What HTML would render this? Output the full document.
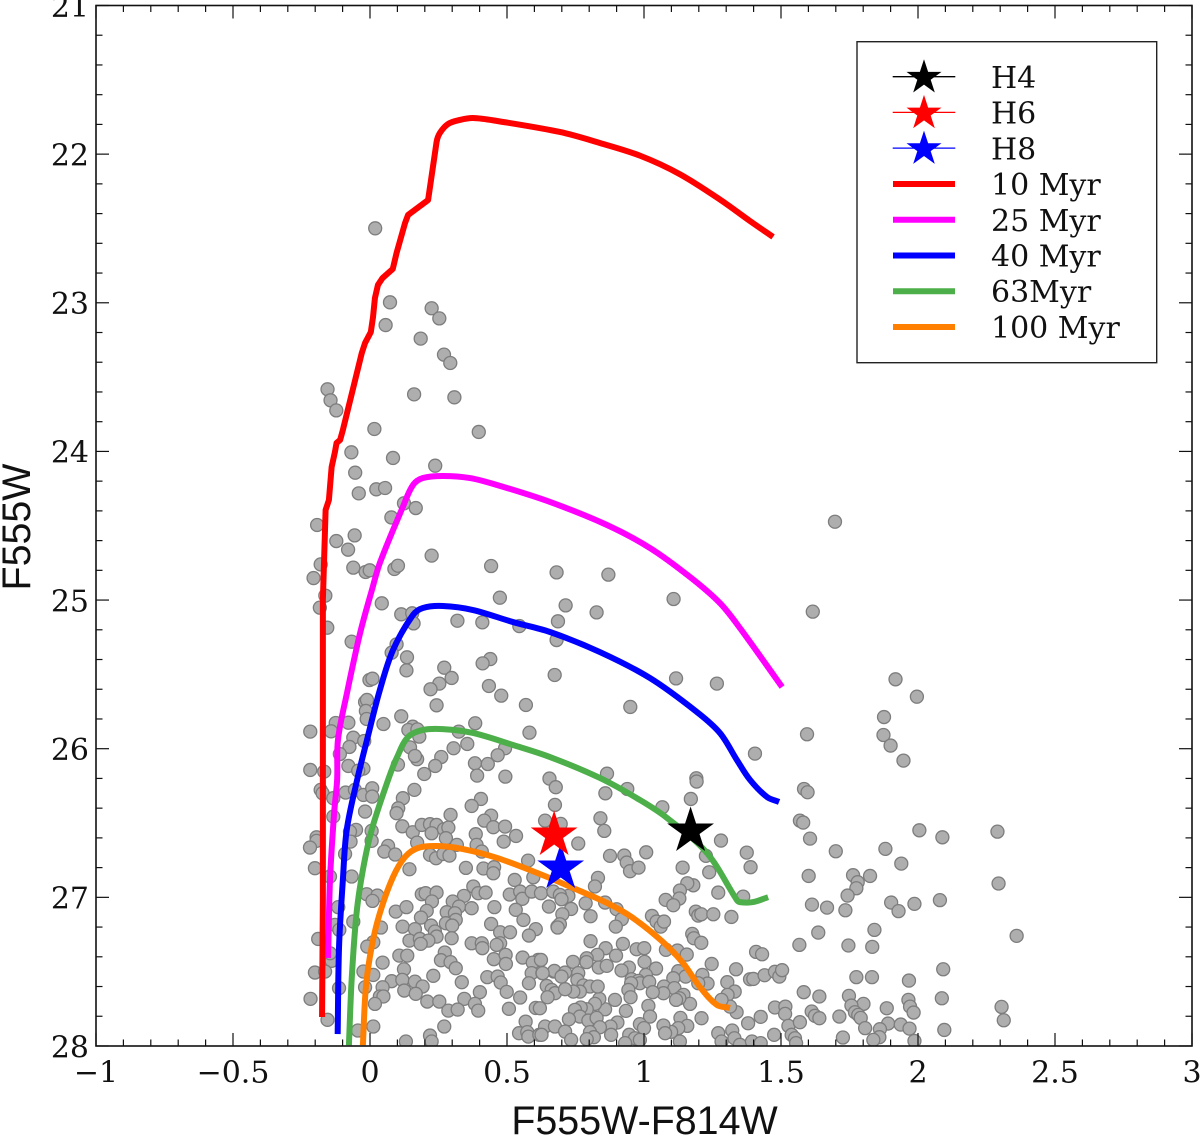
<!DOCTYPE html>
<html lang="en">
<head>
<meta charset="utf-8">
<title>Colour-magnitude diagram</title>
<style>
html,body{margin:0;padding:0;background:#fff;width:1200px;height:1136px;overflow:hidden}
svg{display:block}
.tick-label{font-family:"DejaVu Serif","Liberation Serif",serif;font-size:30px;fill:#111}
.legend-label{font-family:"DejaVu Serif","Liberation Serif",serif;font-size:30px;fill:#111}
.axis-title{font-family:"Liberation Sans","DejaVu Sans",sans-serif;font-size:39.4px;fill:#111}
</style>
</head>
<body>
<svg id="chart" xmlns="http://www.w3.org/2000/svg" width="1200" height="1136" viewBox="0 0 1200 1136">
  <defs><clipPath id="plot-clip"><rect x="96" y="5.5" width="1096" height="1040.5"/></clipPath></defs>
  <g id="points" clip-path="url(#plot-clip)"></g>
  <g id="curves" clip-path="url(#plot-clip)"></g>
  <g id="stars"></g>
  <g id="ticks"></g>
  <rect x="96" y="5.5" width="1096" height="1040.5" fill="none" stroke="#111" stroke-width="1.6"/>
  <g id="tick-labels"></g>
  <text class="axis-title" x="644.5" y="1134" text-anchor="middle">F555W-F814W</text>
  <text class="axis-title" transform="translate(30,527) rotate(-90)" text-anchor="middle">F555W</text>
  <g id="legend">
    <rect x="857" y="41.7" width="299.7" height="321" fill="#fff" stroke="#222" stroke-width="1.4"/>
    <line x1="892.7" x2="955.3" y1="76.7" y2="76.7" stroke="#000" stroke-width="1.3"/>
    <line x1="892.7" x2="955.3" y1="112.4" y2="112.4" stroke="#f00" stroke-width="1.3"/>
    <line x1="892.7" x2="955.3" y1="148.1" y2="148.1" stroke="#00f" stroke-width="1.3"/>
    <line x1="893" x2="955" y1="184" y2="184" stroke="#f00" stroke-width="6"/>
    <line x1="893" x2="955" y1="219.7" y2="219.7" stroke="#f0f" stroke-width="6"/>
    <line x1="893" x2="955" y1="255.5" y2="255.5" stroke="#00f" stroke-width="6"/>
    <line x1="893" x2="955" y1="291.3" y2="291.3" stroke="#4daf4a" stroke-width="6"/>
    <line x1="893" x2="955" y1="327" y2="327" stroke="#ff7f00" stroke-width="6"/>
    <g id="legend-stars"></g>
    <text class="legend-label" x="991" y="88">H4</text>
    <text class="legend-label" x="991" y="123.7">H6</text>
    <text class="legend-label" x="991" y="159.4">H8</text>
    <text class="legend-label" x="991" y="195.1">10 Myr</text>
    <text class="legend-label" x="991" y="230.8">25 Myr</text>
    <text class="legend-label" x="991" y="266.5">40 Myr</text>
    <text class="legend-label" x="991" y="302.2">63Myr</text>
    <text class="legend-label" x="991" y="337.9">100 Myr</text>
  </g>
</svg>
<script>
var xTicks = [-1, -0.5, 0, 0.5, 1, 1.5, 2, 2.5, 3];
var xTickLabels = ['\u22121', '\u22120.5', '0', '0.5', '1', '1.5', '2', '2.5', '3'];
var yTicks = [21, 22, 23, 24, 25, 26, 27, 28];
var yTickLabels = ['21', '22', '23', '24', '25', '26', '27', '28'];

var scatterColor = [
0.019,0.073,0.057,0.225,0.253,0.185,0.270,0.293,-0.155,-0.144,
-0.123,0.161,0.308,0.016,0.397,-0.068,0.084,-0.054,0.238,-0.041,
0.023,0.055,0.124,0.167,0.078,-0.193,-0.056,-0.123,-0.080,0.225,
0.442,0.681,-0.180,-0.206,-0.061,-0.016,-0.001,0.089,0.102,-0.163,
-0.183,0.474,0.043,0.114,0.154,0.159,-0.156,0.319,0.410,0.545,
0.686,0.681,-0.067,0.097,0.079,0.135,0.133,0.271,0.439,0.411,
0.674,0.298,0.253,0.221,0.434,0.479,0.243,0.569,-0.002,0.009,
-0.018,-0.011,-0.015,-0.012,0.114,0.049,0.384,0.582,-0.125,-0.079,
-0.218,-0.142,0.156,0.140,0.173,0.180,0.324,-0.061,-0.021,-0.075,
0.146,0.355,0.305,0.493,-0.110,0.260,0.172,0.164,0.466,0.238,
0.383,0.430,-0.079,-0.218,-0.167,-0.024,-0.043,0.102,0.198,0.391,
0.494,0.655,0.870,1.108,0.714,0.827,1.616,1.117,1.266,0.950,
1.595,1.405,0.865,1.191,1.697,1.918,1.996,1.876,1.874,1.900,
1.947,-0.180,-0.173,-0.134,-0.089,-0.055,-0.024,0.008,0.008,0.162,
0.120,0.103,0.097,-0.018,-0.134,0.405,0.371,0.294,0.442,0.417,
0.450,0.493,0.533,0.488,0.639,0.675,0.118,0.156,0.189,0.219,
0.243,0.225,0.270,0.286,0.277,0.386,0.389,0.408,0.317,0.172,
-0.051,-0.073,0.006,0.006,-0.071,-0.195,-0.195,-0.219,-0.091,0.066,
0.052,0.092,0.219,0.241,0.268,0.290,0.144,-0.201,-0.146,-0.067,
0.350,0.414,0.453,0.450,0.577,0.528,0.596,0.377,0.395,0.422,
0.343,0.302,0.325,0.371,0.454,0.510,0.548,0.556,0.590,0.624,
0.669,0.532,0.653,0.189,0.203,0.243,0.226,0.207,0.186,-0.012,
0.027,0.009,0.094,0.133,-0.116,-0.061,0.280,0.310,0.313,0.277,
0.300,0.119,0.164,0.223,0.237,0.243,0.144,0.182,0.213,0.185,
0.298,0.040,-0.128,-0.112,-0.189,0.012,-0.010,0.442,0.475,0.511,
0.605,0.580,0.560,0.371,0.408,0.410,0.475,0.462,0.684,0.273,
0.259,0.294,0.313,0.107,0.136,-0.140,-0.146,0.046,0.124,0.452,
0.495,0.496,0.557,0.614,0.594,0.590,0.629,0.671,-0.201,-0.164,
-0.024,0.012,-0.018,0.231,0.079,0.118,0.164,0.192,0.125,0.167,
0.046,0.036,0.049,0.018,0.335,0.428,0.466,0.477,0.499,0.580,
0.645,0.663,0.675,0.648,0.401,0.344,0.383,0.395,0.209,0.253,
0.286,0.320,0.548,0.507,0.605,-0.217,-0.113,-0.155,-0.044,0.012,
0.271,0.219,0.225,0.131,0.568,0.544,0.574,0.578,0.618,0.639,
0.675,0.678,0.859,0.939,1.192,1.171,1.067,1.584,1.597,1.569,
1.581,1.606,0.841,0.855,0.760,0.696,1.281,1.375,1.389,0.876,
0.928,0.937,0.949,0.980,1.008,1.141,1.226,1.238,1.180,1.158,
1.131,1.129,1.079,1.107,1.271,1.362,1.601,1.613,0.832,0.821,
0.724,0.693,0.699,0.787,0.858,0.734,0.702,0.805,0.900,0.919,
0.897,0.693,0.685,1.029,1.046,1.061,1.073,1.189,1.198,1.209,
1.253,1.319,1.176,1.182,1.209,0.805,0.860,0.923,0.973,1.001,
1.080,1.122,1.156,0.898,0.830,0.791,0.790,0.741,0.624,0.835,
0.864,1.002,0.945,0.918,1.044,1.007,0.955,0.979,0.985,1.019,
0.953,0.943,1.247,1.125,1.152,1.107,1.073,1.111,1.071,1.032,
0.951,1.213,1.232,1.198,1.336,1.304,1.331,1.305,1.387,1.399,
1.440,1.478,1.494,1.504,1.409,1.431,1.567,1.636,1.583,1.640,
1.478,1.516,1.515,1.426,1.380,1.338,1.314,1.283,1.210,1.144,
1.168,1.129,1.117,1.133,1.158,1.125,1.099,1.071,1.077,1.131,
1.016,1.022,0.985,1.000,0.934,0.894,0.858,0.837,0.821,0.791,
0.769,0.748,0.766,0.797,0.827,0.726,0.903,0.878,0.839,0.803,
0.712,0.880,0.817,0.791,0.734,0.946,0.967,0.985,0.931,1.271,
1.322,1.330,1.283,1.350,1.394,1.426,1.475,1.527,1.539,1.551,
1.555,1.569,1.612,1.624,1.640,0.673,0.630,0.712,0.699,0.760,
0.757,0.779,0.803,0.831,0.766,0.742,0.712,0.620,0.626,2.005,
2.089,2.290,1.700,1.881,1.939,1.763,1.825,1.780,1.775,1.743,
2.294,1.902,1.929,1.987,2.080,1.668,1.735,1.841,1.746,1.833,
2.360,2.092,1.775,1.832,1.967,1.748,1.801,1.757,1.770,1.782,
1.791,1.965,1.971,1.984,2.087,1.886,1.713,1.807,1.891,1.937,
1.969,1.861,1.859,1.837,1.726,1.987,2.096,2.305,2.313
];
var scatterMag = [
22.499,22.997,23.150,23.037,23.105,23.241,23.349,23.405,23.582,23.656,
23.724,23.616,23.636,23.849,23.869,24.006,24.044,24.143,24.096,24.282,
24.255,24.246,24.349,24.381,24.444,24.495,24.565,24.603,24.661,24.701,
24.771,24.814,24.760,24.852,24.782,24.811,24.800,24.791,24.769,24.970,
25.051,24.984,25.022,25.096,25.089,25.157,25.186,25.139,25.150,25.175,
25.143,25.269,25.280,25.298,25.354,25.385,25.473,25.455,25.397,25.426,
25.504,25.524,25.562,25.600,25.578,25.643,25.708,25.706,25.538,25.529,
25.686,25.672,25.746,25.800,25.782,25.834,25.829,25.892,25.827,25.825,
25.885,25.883,25.852,25.874,25.870,25.919,25.885,25.926,25.948,25.988,
25.991,25.968,25.997,25.997,26.036,26.056,26.071,26.049,26.044,26.116,
26.098,26.103,26.116,26.143,26.154,26.134,26.148,26.107,26.170,26.181,
26.188,26.201,24.829,24.993,25.036,25.083,25.078,25.527,25.562,25.719,
25.903,26.033,26.168,26.199,24.473,25.533,25.650,25.787,25.908,25.979,
26.080,26.277,26.300,26.333,26.295,26.277,26.311,26.266,26.322,26.277,
26.333,26.401,26.434,26.423,26.457,26.338,26.385,26.445,26.450,26.484,
26.528,26.524,26.587,26.625,26.484,26.378,26.522,26.562,26.513,26.508,
26.513,26.569,26.542,26.531,26.602,26.575,26.647,26.692,26.647,26.632,
26.546,26.558,26.553,26.620,26.625,26.596,26.620,26.665,26.708,26.654,
26.692,26.712,26.714,26.737,26.708,26.719,26.811,26.804,26.860,26.860,
26.802,26.806,26.797,26.838,26.753,26.883,26.865,26.927,26.972,26.968,
26.990,27.028,27.062,27.073,27.066,26.981,26.961,27.010,26.961,26.972,
26.961,27.084,27.062,26.979,26.972,26.968,27.028,27.091,27.136,26.979,
26.988,27.024,27.096,27.066,27.066,27.163,27.100,27.107,27.152,27.174,
27.190,27.197,27.214,27.190,27.230,27.264,27.291,27.280,27.291,27.313,
27.275,27.203,27.185,27.219,27.280,27.302,27.331,27.179,27.235,27.235,
27.214,27.257,27.152,27.309,27.309,27.342,27.309,27.320,27.197,27.371,
27.423,27.436,27.477,27.392,27.392,27.427,27.376,27.439,27.484,27.416,
27.387,27.448,27.405,27.421,27.439,27.510,27.510,27.499,27.506,27.499,
27.499,27.522,27.605,27.528,27.564,27.555,27.567,27.600,27.627,27.649,
27.605,27.667,27.667,27.717,27.571,27.537,27.533,27.573,27.636,27.578,
27.596,27.623,27.645,27.672,27.638,27.683,27.717,27.762,27.701,27.701,
27.762,27.755,27.674,27.750,27.744,27.683,27.611,27.824,27.896,27.869,
27.869,27.930,27.970,27.970,27.836,27.914,27.907,27.937,27.925,27.869,
27.869,26.259,26.300,26.271,26.221,26.338,26.394,26.271,26.293,26.484,
26.497,26.605,26.468,26.553,26.638,26.506,26.618,26.699,26.797,26.721,
26.719,26.766,26.824,26.800,26.697,26.800,26.721,26.831,26.919,26.905,
26.954,27.008,27.017,27.053,26.968,26.995,26.856,27.049,26.869,26.927,
26.990,26.984,27.013,27.040,27.035,27.078,27.114,27.127,27.080,27.147,
27.197,27.181,27.203,27.125,27.163,27.197,27.163,27.096,27.123,27.114,
27.114,27.132,27.246,27.275,27.306,27.295,27.342,27.313,27.349,27.342,
27.353,27.358,27.385,27.392,27.387,27.410,27.436,27.434,27.421,27.472,
27.461,27.434,27.472,27.492,27.479,27.522,27.551,27.562,27.578,27.569,
27.578,27.623,27.448,27.497,27.533,27.544,27.600,27.611,27.645,27.638,
27.672,27.522,27.580,27.578,27.484,27.571,27.634,27.656,27.551,27.549,
27.524,27.501,27.533,27.490,27.367,27.383,27.320,27.237,27.638,27.667,
27.741,27.735,27.784,27.804,27.847,27.773,27.735,27.690,27.813,27.656,
27.717,27.679,27.690,27.811,27.865,27.880,27.905,27.862,27.914,27.970,
27.730,27.802,27.853,27.880,27.764,27.690,27.753,27.683,27.717,27.753,
27.741,27.757,27.802,27.829,27.811,27.820,27.842,27.869,27.874,27.907,
27.903,27.925,27.941,27.954,27.959,27.925,27.948,27.959,27.981,27.914,
27.896,27.948,27.970,27.992,27.970,27.981,27.925,27.865,27.925,27.948,
27.981,27.840,27.768,27.797,27.813,27.495,27.510,27.506,27.533,27.510,
27.555,27.593,27.600,27.600,27.634,27.634,27.618,27.746,27.925,26.549,
26.596,26.558,26.690,26.674,26.773,26.851,26.856,26.898,26.939,26.988,
26.907,27.035,27.093,27.044,27.019,27.069,27.087,27.219,27.324,27.333,
27.259,27.484,27.537,27.537,27.560,27.663,27.717,27.728,27.773,27.791,
27.811,27.690,27.735,27.775,27.679,27.746,27.802,27.880,27.849,27.856,
27.883,27.887,27.941,27.959,27.943,27.966,27.892,27.737,27.827
];

var iso10Color = [-0.175,-0.172,-0.172,-0.172,-0.162,-0.150,-0.140,-0.128,-0.122,-0.109,-0.099,-0.030,-0.018,0.003,0.011,0.018,0.029,0.046,0.083,0.097,0.128,0.139,0.212,0.243,0.255,0.285,0.328,0.376,0.464,0.693,0.839,0.985,1.131,1.277,1.387,1.471];
var iso10Mag = [27.805,27.017,25.672,25.000,24.394,24.327,24.105,24.004,23.943,23.923,23.856,23.338,23.270,23.197,23.096,22.968,22.880,22.833,22.773,22.665,22.463,22.409,22.309,21.918,21.858,21.797,21.770,21.757,21.777,21.851,21.925,22.010,22.135,22.305,22.450,22.557];
var iso25Color = [-0.153,-0.146,-0.131,-0.120,-0.117,-0.084,-0.036,0.007,0.036,0.120,0.157,0.193,0.266,0.365,0.464,0.657,0.865,1.022,1.168,1.277,1.350,1.504];
var iso25Mag = [27.408,26.883,26.433,26.210,25.941,25.625,25.221,24.932,24.750,24.373,24.226,24.179,24.165,24.179,24.226,24.340,24.495,24.650,24.845,25.020,25.188,25.585];
var iso40Color = [-0.118,-0.113,-0.099,-0.085,-0.047,-0.011,0.036,0.084,0.157,0.193,0.266,0.376,0.522,0.657,0.839,1.022,1.193,1.277,1.339,1.387,1.449,1.493];
var iso40Mag = [27.920,27.334,26.883,26.547,26.210,25.941,25.605,25.336,25.100,25.053,25.040,25.067,25.148,25.215,25.350,25.525,25.753,25.894,26.076,26.210,26.325,26.358];
var iso63Color = [-0.077,-0.067,-0.049,-0.026,0.006,0.066,0.099,0.139,0.193,0.266,0.376,0.522,0.657,0.839,0.985,1.084,1.230,1.339,1.350,1.398,1.453];
var iso63Mag = [27.995,27.556,27.106,26.816,26.547,26.210,26.056,25.921,25.874,25.868,25.894,25.975,26.056,26.197,26.345,26.466,26.702,27.018,27.032,27.032,26.999];
var iso100Color = [-0.026,-0.015,0.006,0.036,0.084,0.128,0.175,0.245,0.339,0.464,0.620,0.741,0.865,0.960,1.069,1.142,1.204,1.266,1.314];
var iso100Mag = [27.995,27.605,27.334,27.106,26.863,26.728,26.668,26.655,26.675,26.735,26.843,26.937,27.038,27.139,27.300,27.441,27.603,27.724,27.744];

var starNames = ['H4', 'H8', 'H6'];
var starColor = [1.170, 0.696, 0.672];
var starMag = [26.554, 26.803, 26.581];
var starFill = ['#000', '#00f', '#f00'];

var SVGNS = 'http://www.w3.org/2000/svg';
function sx(c) { return 370 + c * 274; }
function sy(m) { return 5.5 + (m - 21) * 148.64; }
function make(tag, parent) {
  var el = document.createElementNS(SVGNS, tag);
  parent.appendChild(el);
  return el;
}
function starPoints(cx, cy, R) {
  var r = R * 0.382, out = [];
  for (var i = 0; i < 10; i++) {
    var a = -Math.PI / 2 + i * Math.PI / 5, q = i % 2 ? r : R;
    out.push((cx + q * Math.cos(a)).toFixed(2) + ',' + (cy + q * Math.sin(a)).toFixed(2));
  }
  return out.join(' ');
}

var pointsG = document.getElementById('points');
for (var i = 0; i < scatterColor.length; i++) {
  var p = make('circle', pointsG);
  
  
  p.setAttribute('cx', sx(scatterColor[i]).toFixed(2));
  p.setAttribute('cy', sy(scatterMag[i]).toFixed(2));
  p.setAttribute('r', '6.5');
  p.setAttribute('fill', '#aeaeae');
  p.setAttribute('stroke', '#7d7d7d');
  p.setAttribute('stroke-width', '1.3');
}

var curvesG = document.getElementById('curves');
function tangent(px, py, j) {
  var a = Math.max(0, j - 1), b = Math.min(px.length - 1, j + 1);
  var dx = px[b] - px[a], dy = py[b] - py[a], len = Math.sqrt(dx * dx + dy * dy) || 1;
  return [dx / len, dy / len];
}
function drawCurve(colors, mags, stroke, label, smoothFrom) {
  var px = [], py = [], j;
  for (j = 0; j < colors.length; j++) {
    px.push(sx(colors[j]));
    py.push(sy(mags[j]));
  }
  var d = 'M' + px[0].toFixed(2) + ' ' + py[0].toFixed(2);
  for (j = 1; j < px.length; j++) {
    if (j - 1 < smoothFrom) {
      d += 'L' + px[j].toFixed(2) + ' ' + py[j].toFixed(2);
    } else {
      var seg = Math.sqrt(Math.pow(px[j] - px[j - 1], 2) + Math.pow(py[j] - py[j - 1], 2)) / 3;
      var t0 = tangent(px, py, j - 1), t1 = tangent(px, py, j);
      d += 'C' + (px[j - 1] + t0[0] * seg).toFixed(2) + ' ' + (py[j - 1] + t0[1] * seg).toFixed(2) + ' ' +
        (px[j] - t1[0] * seg).toFixed(2) + ' ' + (py[j] - t1[1] * seg).toFixed(2) + ' ' +
        px[j].toFixed(2) + ' ' + py[j].toFixed(2);
    }
  }
  var line = make('path', curvesG);
  
  
  line.setAttribute('d', d);
  line.setAttribute('fill', 'none');
  line.setAttribute('stroke', stroke);
  line.setAttribute('stroke-width', '6');
  line.setAttribute('stroke-linejoin', 'round');
}
drawCurve(iso10Color, iso10Mag, '#f00', 'isochrone-10-myr', 23);
drawCurve(iso25Color, iso25Mag, '#f0f', 'isochrone-25-myr', 0);
drawCurve(iso40Color, iso40Mag, '#00f', 'isochrone-40-myr', 0);
drawCurve(iso63Color, iso63Mag, '#4daf4a', 'isochrone-63-myr', 0);
drawCurve(iso100Color, iso100Mag, '#ff7f00', 'isochrone-100-myr', 0);

var starsG = document.getElementById('stars');
for (var s = 0; s < starColor.length; s++) {
  var st = make('polygon', starsG);
  
  
  st.setAttribute('points', starPoints(sx(starColor[s]), sy(starMag[s]), 24.6));
  st.setAttribute('fill', starFill[s]);
}

var legendStars = document.getElementById('legend-stars');
var legendStarFill = ['#000', '#f00', '#00f'];
var legendStarY = [77.6, 113.3, 149];
for (var k = 0; k < 3; k++) {
  var ls = make('polygon', legendStars);
  
  
  ls.setAttribute('points', starPoints(924, legendStarY[k], 18.4));
  ls.setAttribute('fill', legendStarFill[k]);
}

var ticksG = document.getElementById('ticks');
function tick(x1, y1, x2, y2, w) {
  var t = make('line', ticksG);
  
  
  t.setAttribute('x1', x1);
  t.setAttribute('y1', y1);
  t.setAttribute('x2', x2);
  t.setAttribute('y2', y2);
  t.setAttribute('stroke', '#111');
  t.setAttribute('stroke-width', w);
}
var xMin = sx(-1), xMax = sx(3), yMin = sy(21), yMax = sy(28);
for (var n = 0; n <= 40; n++) {
  var xv = sx(-1 + n * 0.1), xLen = n % 5 === 0 ? 13 : 6.5;
  tick(xv, yMax, xv, yMax - xLen, 1.2);
  tick(xv, yMin, xv, yMin + xLen, 1.2);
}
for (var q = 0; q <= 35; q++) {
  var yv = sy(21 + q * 0.2), yLen = q % 5 === 0 ? 13 : 6.5;
  tick(xMin, yv, xMin + yLen, yv, 1.2);
  tick(xMax, yv, xMax - yLen, yv, 1.2);
}

var labelsG = document.getElementById('tick-labels');
for (var a = 0; a < xTicks.length; a++) {
  var xl = make('text', labelsG);
  
  
  xl.setAttribute('class', 'tick-label');
  xl.setAttribute('x', sx(xTicks[a]));
  xl.setAttribute('y', 1082.7);
  xl.setAttribute('text-anchor', 'middle');
  xl.textContent = xTickLabels[a];
}
for (var b = 0; b < yTicks.length; b++) {
  var yl = make('text', labelsG);
  
  
  yl.setAttribute('class', 'tick-label');
  yl.setAttribute('x', 89);
  yl.setAttribute('y', sy(yTicks[b]) + 11.3);
  yl.setAttribute('text-anchor', 'end');
  yl.textContent = yTickLabels[b];
}
</script>
</body>
</html>
